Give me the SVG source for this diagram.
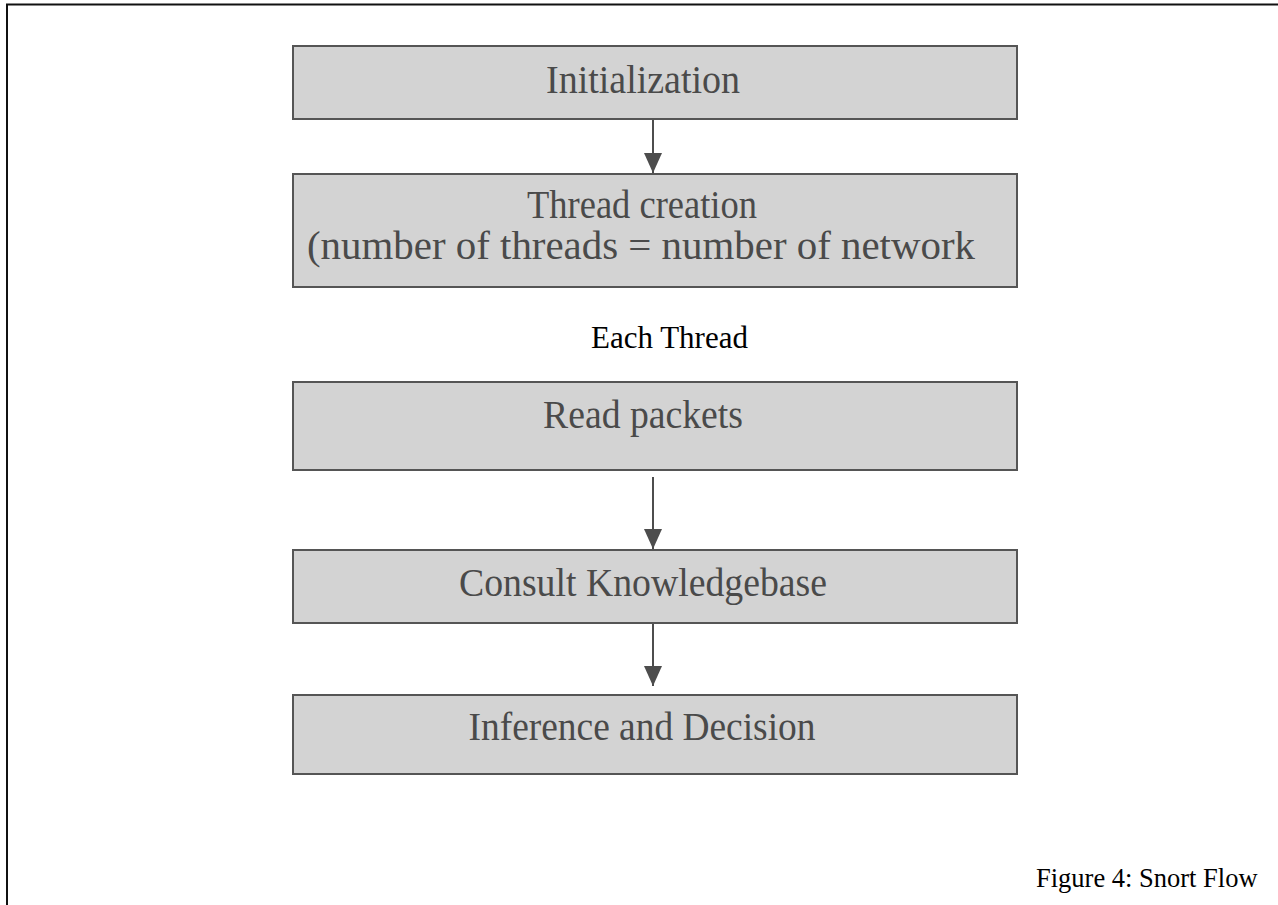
<svg xmlns="http://www.w3.org/2000/svg" width="1278" height="905" viewBox="0 0 1278 905">
  <style>
    .frame { fill: none; stroke: #111; stroke-width: 2; }
    .box { fill: #d3d3d3; stroke: #555; stroke-width: 2; }
    .label { font-family: "Liberation Serif", "Times New Roman", serif; font-size: 40px; fill: #4a4a4a; text-anchor: middle; }
    .plain { font-family: "Liberation Serif", "Times New Roman", serif; fill: #000; }
    .wire { stroke: #4d4d4d; stroke-width: 2; fill: none; }
    .head { fill: #4d4d4d; }
  </style>
  <defs>
    <!-- arrowhead drawn along +x so orient="auto" turns it with the line -->
    <marker id="arrow" markerUnits="userSpaceOnUse" markerWidth="20" markerHeight="18" refX="20" refY="9" orient="auto" viewBox="0 0 20 18">
      <path d="M0,0 L20,9 L0,18 Z" class="head"/>
    </marker>
  </defs>

  <rect width="1278" height="905" fill="#fff"/>
  <!-- page frame, open at right and bottom -->
  <rect class="frame" x="7" y="4.5" width="1400" height="1000"/>

  <g id="connectors">
    <line class="wire" x1="653" y1="119" x2="653" y2="173" marker-end="url(#arrow)"/>
    <line class="wire" x1="653" y1="477" x2="653" y2="549" marker-end="url(#arrow)"/>
    <line class="wire" x1="653" y1="623" x2="653" y2="686" marker-end="url(#arrow)"/>
  </g>

  <g id="initialization">
    <rect class="box" x="293" y="46" width="724" height="73"/>
    <text class="label" x="643" y="93" textLength="194" lengthAdjust="spacingAndGlyphs">Initialization</text>
  </g>

  <g id="thread-creation">
    <rect class="box" x="293" y="174" width="724" height="113"/>
    <text class="label" x="642" y="218" textLength="230" lengthAdjust="spacingAndGlyphs">Thread creation</text>
    <text class="label" x="641" y="259" textLength="668" lengthAdjust="spacingAndGlyphs">(number of threads = number of network</text>
  </g>

  <text id="each-thread" class="plain" x="591" y="348" font-size="31">Each Thread</text>

  <g id="read-packets">
    <rect class="box" x="293" y="382" width="724" height="88"/>
    <text class="label" x="643" y="428" textLength="200" lengthAdjust="spacingAndGlyphs">Read packets</text>
  </g>

  <g id="consult-knowledgebase">
    <rect class="box" x="293" y="550" width="724" height="73"/>
    <text class="label" x="643" y="596" textLength="368" lengthAdjust="spacingAndGlyphs">Consult Knowledgebase</text>
  </g>

  <g id="inference-decision">
    <rect class="box" x="293" y="695" width="724" height="79"/>
    <text class="label" x="642" y="740" textLength="347" lengthAdjust="spacingAndGlyphs">Inference and Decision</text>
  </g>

  <text id="caption" class="plain" x="1036" y="887" font-size="26.5">Figure 4: Snort Flow</text>
</svg>
